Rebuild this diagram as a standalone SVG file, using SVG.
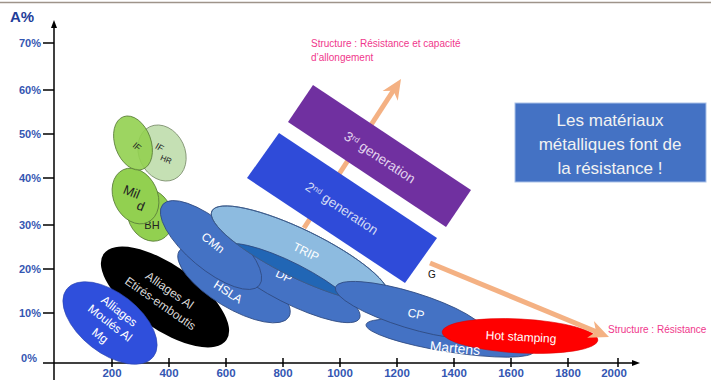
<svg xmlns="http://www.w3.org/2000/svg" width="711" height="380" viewBox="0 0 711 380">
<defs>
<style>
.f { font-family: "Liberation Sans", Arial, sans-serif; }
.ax { font-family: "Liberation Sans", Arial, sans-serif; font-weight: bold; font-size: 11px; fill: #3456B2; }
.yl { text-anchor: end; }
.xl { text-anchor: middle; font-size: 11.5px; }
.tick { stroke: #000; stroke-width: 1.5; }
.eb { fill: #4472C4; stroke: #2F4A80; stroke-width: 0.8; }
.eg { fill: #92D050; stroke: #5A7D3A; stroke-width: 0.8; }
.w { font-family: "Liberation Sans", Arial, sans-serif; fill: #FFFFFF; text-anchor: middle; font-size: 12px; }
.k { font-family: "Liberation Sans", Arial, sans-serif; fill: #222; text-anchor: middle; }
.pink { font-family: "Liberation Sans", Arial, sans-serif; fill: #F0388C; font-size: 10px; }
.shaft { stroke: #F4B183; stroke-width: 5; fill: none; }
.head { fill: #F4B183; }
.gen { font-family: "Liberation Sans", Arial, sans-serif; text-anchor: middle; font-size: 13.5px; }
</style>
<clipPath id="tripClip"><ellipse cx="0" cy="0" rx="98" ry="24" transform="translate(300,254) rotate(26)"/></clipPath>
</defs>
<rect width="711" height="380" fill="#FFFFFF"/>
<line x1="0" y1="2.5" x2="711" y2="2.5" stroke="#9E948A" stroke-width="1.5"/>

<g id="axes">
  <line x1="54" y1="380" x2="54" y2="25" stroke="#000" stroke-width="1.5"/>
  <polygon points="54,20 51,28 57,28" fill="#000"/>
  <line x1="43" y1="363" x2="634" y2="363" stroke="#000" stroke-width="1.5"/>
  <polygon points="640,363 632,360 632,366" fill="#000"/>
  <text class="ax" x="10" y="22" style="font-size:15px;fill:#1F3D99">A%</text>
  <g class="tick">
    <line x1="43" y1="43" x2="54" y2="43"/>
    <line x1="43" y1="90" x2="54" y2="90"/>
    <line x1="43" y1="134" x2="54" y2="134"/>
    <line x1="43" y1="178" x2="54" y2="178"/>
    <line x1="43" y1="225" x2="54" y2="225"/>
    <line x1="43" y1="269" x2="54" y2="269"/>
    <line x1="43" y1="313" x2="54" y2="313"/>
    <line x1="112" y1="358" x2="112" y2="367"/>
    <line x1="169" y1="358" x2="169" y2="367"/>
    <line x1="226" y1="358" x2="226" y2="367"/>
    <line x1="283" y1="358" x2="283" y2="367"/>
    <line x1="340" y1="358" x2="340" y2="367"/>
    <line x1="397" y1="358" x2="397" y2="367"/>
    <line x1="454" y1="358" x2="454" y2="367"/>
    <line x1="511" y1="358" x2="511" y2="367"/>
    <line x1="568" y1="358" x2="568" y2="367"/>
    <line x1="618" y1="358" x2="618" y2="367"/>
  </g>
  <text class="ax yl" x="41" y="47">70%</text>
  <text class="ax yl" x="41" y="94">60%</text>
  <text class="ax yl" x="41" y="138">50%</text>
  <text class="ax yl" x="41" y="182">40%</text>
  <text class="ax yl" x="41" y="229">30%</text>
  <text class="ax yl" x="41" y="273">20%</text>
  <text class="ax yl" x="41" y="317">10%</text>
  <text class="ax yl" x="37" y="362">0%</text>
  <text class="ax xl" x="112" y="377">200</text>
  <text class="ax xl" x="169" y="377">400</text>
  <text class="ax xl" x="226" y="377">600</text>
  <text class="ax xl" x="283" y="377">800</text>
  <text class="ax xl" x="340" y="377">1000</text>
  <text class="ax xl" x="397" y="377">1200</text>
  <text class="ax xl" x="454" y="377">1400</text>
  <text class="ax xl" x="511" y="377">1600</text>
  <text class="ax xl" x="568" y="377">1800</text>
  <text class="ax xl" x="614" y="377">2000</text>
</g>

<g id="alliages-al">
  <ellipse cx="0" cy="0" rx="75" ry="32" transform="translate(165,297) rotate(35)" fill="#000000"/>
  <g transform="translate(165,297) rotate(35)">
    <text class="w" x="0" y="-4" style="fill:#D9D9D9">Alliages Al</text>
    <text class="w" x="0" y="12" style="fill:#D9D9D9">Etirés-emboutis</text>
  </g>
</g>

<g id="alliages-moules">
  <ellipse cx="0" cy="0" rx="55" ry="30" transform="translate(110,323) rotate(38)" fill="#2F4FDC" stroke="#2A44B0" stroke-width="0.6"/>
  <g transform="translate(110,323) rotate(38)">
    <text class="w" x="0" y="-11">Alliages</text>
    <text class="w" x="0" y="4">Moulés Al</text>
    <text class="w" x="0" y="20">Mg</text>
  </g>
</g>

<g id="bh">
  <ellipse class="eg" cx="0" cy="0" rx="22" ry="27" transform="translate(150,215) rotate(-25)"/>
  <text class="k" x="152" y="229" style="font-size:11px">BH</text>
</g>
<g id="mild">
  <ellipse class="eg" cx="0" cy="0" rx="22" ry="29" transform="translate(135.5,196) rotate(-25)"/>
  <text class="k" transform="translate(130,196) rotate(22)" style="font-size:13px">Mil</text>
  <text class="k" transform="translate(139,210) rotate(22)" style="font-size:13px">d</text>
</g>
<g id="if-hr">
  <ellipse cx="0" cy="0" rx="23" ry="29" transform="translate(162,153) rotate(-25)" fill="#C5E0B4" stroke="#7D8F6E" stroke-width="0.8"/>
  <text class="k" transform="translate(158,150) rotate(30)" style="font-size:9px">IF</text>
  <text class="k" transform="translate(165,162) rotate(22)" style="font-size:8px">HR</text>
</g>
<g id="if">
  <ellipse class="eg" cx="0" cy="0" rx="18" ry="28" transform="translate(133,143) rotate(-20)" fill-opacity="0.9"/>
  <text class="k" transform="translate(135,149) rotate(40)" style="font-size:9px">IF</text>
</g>

<g id="hsla">
  <ellipse class="eb" cx="0" cy="0" rx="64" ry="24" transform="translate(234,284) rotate(31)"/>
  <text class="w" transform="translate(228,292) rotate(33)" y="4">HSLA</text>
</g>
<g id="dp">
  <ellipse class="eb" cx="0" cy="0" rx="78" ry="20" transform="translate(290,283) rotate(27)"/>
  <text class="w" transform="translate(284,276) rotate(26)" y="4">DP</text>
</g>
<g id="cmn">
  <ellipse class="eb" cx="0" cy="0" rx="63" ry="24" transform="translate(211,245) rotate(40)"/>
  <text class="w" transform="translate(213,243) rotate(38)" y="4">CMn</text>
</g>
<g id="trip">
  <ellipse cx="0" cy="0" rx="98" ry="24" transform="translate(300,254) rotate(26)" fill="#8DBBE0" stroke="#3A5A8A" stroke-width="0.8"/>
  <g clip-path="url(#tripClip)">
    <ellipse cx="0" cy="0" rx="78" ry="20" transform="translate(290,283) rotate(27)" fill="#2166B5" stroke="#2F4A80" stroke-width="0.8"/>
  </g>
  <ellipse cx="0" cy="0" rx="98" ry="24" transform="translate(300,254) rotate(26)" fill="none" stroke="#3A5A8A" stroke-width="0.8"/>
  <text class="w" transform="translate(306,252) rotate(26)" y="4">TRIP</text>
</g>

<g id="martens">
  <ellipse class="eb" cx="0" cy="0" rx="85" ry="14" transform="translate(450,338) rotate(9)"/>
</g>
<g id="cp">
  <ellipse class="eb" cx="0" cy="0" rx="78" ry="18" transform="translate(410,310) rotate(17)"/>
  <text class="w" transform="translate(416,314) rotate(12)" y="4">CP</text>
</g>
<g id="hot-stamping">
  <ellipse cx="0" cy="0" rx="78" ry="17" transform="translate(520,336) rotate(3)" fill="#FF0000" stroke="#E00000" stroke-width="0.6"/>
  <text class="w" transform="translate(521,337) rotate(3)" y="4">Hot stamping</text>
</g>
<text class="w" transform="translate(455,348) rotate(5)" y="5" style="font-size:14px">Martens</text>

<g id="connectors">
  <line class="shaft" x1="304" y1="228" x2="395" y2="88"/>
  <polygon class="head" points="401,79 397.8,100.7 393.4,90.8 382.6,90.9"/>
  <line class="shaft" x1="430" y1="263" x2="597" y2="332"/>
  <polygon class="head" points="609,337 587.1,337.7 596.1,331.7 593.9,321.1"/>
  <text class="f" x="428" y="278" style="font-size:10px;fill:#111">G</text>
  <text class="pink" x="311" y="47">Structure : Résistance et capacité</text>
  <text class="pink" x="311" y="61">d’allongement</text>
  <text class="pink" x="608" y="333">Structure : Résistance</text>
</g>

<g id="gen2">
  <polygon points="279,133 437,238 405,283 247,178" fill="#2F4BD9"/>
  <text class="gen" transform="translate(342,208) rotate(33.6)" y="5" fill="#D2DAF4">2<tspan baseline-shift="super" style="font-size:8px">nd</tspan> generation</text>
</g>
<g id="gen3">
  <polygon points="313,85 471,190 446,227 288,122" fill="#7030A0"/>
  <text class="gen" transform="translate(380,157) rotate(33.6)" y="5" fill="#E2D3EE">3<tspan baseline-shift="super" style="font-size:8px">rd</tspan> generation</text>
</g>

<g id="info-box">
  <rect x="515" y="103" width="191" height="79" fill="#4472C4" stroke="#A9C1E8" stroke-width="1"/>
  <text class="f" x="610" y="126" text-anchor="middle" style="font-size:17px;fill:#F2F2F2">Les matériaux</text>
  <text class="f" x="610" y="150" text-anchor="middle" style="font-size:17px;fill:#F2F2F2">métalliques font de</text>
  <text class="f" x="610" y="174" text-anchor="middle" style="font-size:17px;fill:#F2F2F2">la résistance !</text>
</g>
</svg>
